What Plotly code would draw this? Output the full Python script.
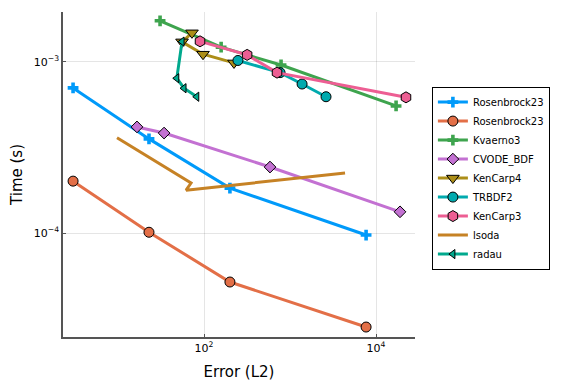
import plotly.graph_objects as go

# Work-precision data (Error L2, Time s)
ros23a_err = [3.0, 22.9, 200, 7660]
ros23a_time = [7.05e-4, 3.55e-4, 1.83e-4, 9.73e-5]

ros23b_err = [3.0, 22.9, 200, 7660]
ros23b_time = [2.01e-4, 1.01e-4, 5.17e-5, 2.82e-5]

kvaerno3_err = [30.8, 158, 786, 17100]
kvaerno3_time = [1.74e-3, 1.22e-3, 9.6e-4, 5.53e-4]

cvode_err = [16.6, 34.3, 585, 19000]
cvode_time = [4.17e-4, 3.84e-4, 2.43e-4, 1.33e-4]

kencarp4_err = [72.4, 55.5, 97.3, 223]
kencarp4_time = [1.48e-3, 1.31e-3, 1.11e-3, 9.87e-4]

trbdf2_err = [248, 766, 1380, 2620]
trbdf2_time = [1.02e-3, 8.66e-4, 7.43e-4, 6.26e-4]

kencarp3_err = [89.8, 317, 706, 22300]
kencarp3_time = [1.32e-3, 1.10e-3, 8.66e-4, 6.21e-4]

lsoda_err = [9.73, 70.6, 61.8, 4360]
lsoda_time = [3.6e-4, 1.96e-4, 1.78e-4, 2.24e-4]

radau_err = [55.5, 48.2, 58.5, 82.3]
radau_time = [1.315e-3, 8.03e-4, 7.02e-4, 6.26e-4]

names = ["Rosenbrock23", "Rosenbrock23", "Kvaerno3", "CVODE_BDF", "KenCarp4",
         "TRBDF2", "KenCarp3", "lsoda", "radau"]
xs = [ros23a_err, ros23b_err, kvaerno3_err, cvode_err, kencarp4_err,
      trbdf2_err, kencarp3_err, lsoda_err, radau_err]
ys = [ros23a_time, ros23b_time, kvaerno3_time, cvode_time, kencarp4_time,
      trbdf2_time, kencarp3_time, lsoda_time, radau_time]
colors = ["#009AFA", "#E36F47", "#3EA44E", "#C371D2", "#AC8E18",
          "#00AAAE", "#ED5E93", "#C68225", "#00A98D"]
symbols = ["cross", "circle", "cross", "diamond", "triangle-down",
           "circle", "hexagon", None, "triangle-left"]
sizes = [9, 10, 9, 9, 11, 10, 11, 0, 8]

x_tickvals = [100, 10000]
x_ticktext = ["10<sup>2</sup>", "10<sup>4</sup>"]
y_tickvals = [1e-4, 1e-3]
y_ticktext = ["10<sup>−4</sup>", "10<sup>−3</sup>"]

fig = go.Figure()
for n, x, y, c, s, sz in zip(names, xs, ys, colors, symbols, sizes):
    if s is None:
        fig.add_trace(go.Scatter(x=x, y=y, name=n, mode="lines",
                                 line=dict(color=c, width=3)))
    else:
        lw = 0 if s == "cross" else 1
        fig.add_trace(go.Scatter(x=x, y=y, name=n, mode="lines+markers",
                                 line=dict(color=c, width=3),
                                 marker=dict(symbol=s, size=sz, color=c,
                                             line=dict(color="black", width=lw))))

# page body has an 8px default margin, so margins are offset to compensate
fig.update_layout(
    width=576, height=384,
    margin=dict(l=55, r=169, t=4, b=55, autoexpand=False),
    paper_bgcolor="white", plot_bgcolor="white",
    font=dict(family="DejaVu Sans", size=11, color="black"),
    legend=dict(x=1.048, y=0.489, xanchor="left", yanchor="middle",
                bordercolor="black", borderwidth=1, bgcolor="white",
                font=dict(size=10), tracegroupgap=0, itemwidth=30),
    showlegend=True,
)
fig.update_xaxes(type="log", range=[0.36, 4.453], automargin=False,
                 tickvals=x_tickvals, ticktext=x_ticktext,
                 showgrid=True, gridcolor="rgba(0,0,0,0.1)", gridwidth=0.5,
                 showline=True, linecolor="#555", linewidth=1.5,
                 ticks="inside", ticklen=3, tickcolor="#555",
                 zeroline=False, mirror=False,
                 title=dict(text="Error (L2)", font=dict(size=15), standoff=13))
fig.update_yaxes(type="log", range=[-4.608, -2.708], automargin=False,
                 tickvals=y_tickvals, ticktext=y_ticktext,
                 showgrid=True, gridcolor="rgba(0,0,0,0.1)", gridwidth=0.5,
                 showline=True, linecolor="#555", linewidth=1.5,
                 ticks="inside", ticklen=3, tickcolor="#555",
                 zeroline=False, mirror=False,
                 title=dict(text="Time (s)", font=dict(size=15), standoff=10))

fig.write_html("out.html")
